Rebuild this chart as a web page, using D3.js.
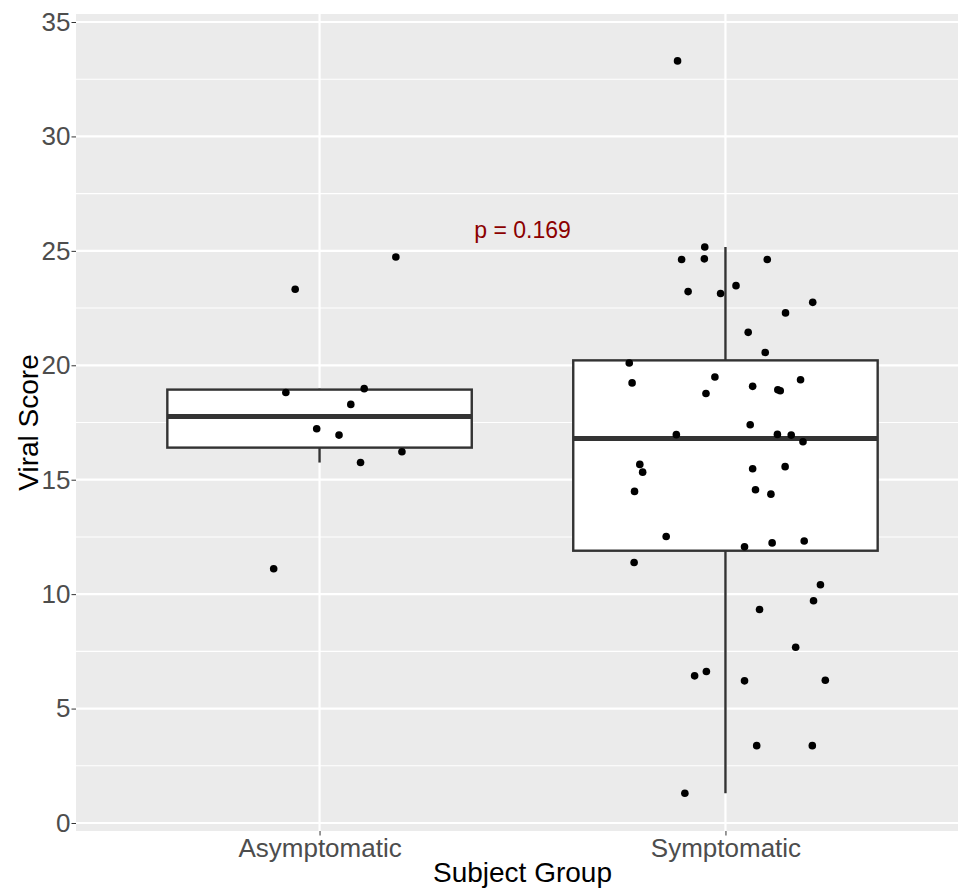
<!DOCTYPE html>
<html>
<head>
<meta charset="utf-8">
<script src="https://cdn.jsdelivr.net/npm/d3@7"></script>
<style>
  body { margin: 0; background: #fff; }
  text { font-family: "Liberation Sans", Arial, sans-serif; }
</style>
</head>
<body>
<div id="chart"></div>
<script>
// categories
const groups = ["Asymptomatic", "Symptomatic"];

// viral scores
const asymScores = [23.32, 24.73, 18.81, 18.98, 18.29, 17.23, 16.95, 16.22, 15.75, 11.11];
// horizontal jitter as a fraction of the category step
const asymJitter = [-0.060, 0.188, -0.083, 0.110, 0.077, -0.007, 0.048, 0.203, 0.101, -0.113];

const sympScores = [33.3, 25.17, 24.62, 24.65, 24.62, 23.22, 23.14, 23.48, 22.75, 22.29,
                    21.44, 20.56, 20.1, 19.23, 19.49, 18.77, 19.08, 18.93, 18.89, 19.37,
                    17.4, 16.97, 16.98, 16.95, 16.66, 15.67, 15.33, 15.48, 15.57, 14.49,
                    14.56, 14.37, 12.52, 12.07, 12.24, 12.32, 11.38, 10.41, 9.71, 9.33,
                    7.68, 6.43, 6.62, 6.21, 6.24, 3.38, 3.38, 1.30];
const sympJitter = [-0.118, -0.051, -0.108, -0.052, 0.103, -0.092, -0.012, 0.026, 0.215, 0.148,
                    0.056, 0.098, -0.237, -0.230, -0.026, -0.048, 0.067, 0.129, 0.135, 0.185,
                    0.061, -0.121, 0.128, 0.162, 0.191, -0.211, -0.204, 0.067, 0.147, -0.224,
                    0.074, 0.112, -0.146, 0.047, 0.115, 0.194, -0.225, 0.234, 0.217, 0.084,
                    0.173, -0.076, -0.047, 0.047, 0.246, 0.077, 0.214, -0.100];

const yTicks = [0, 5, 10, 15, 20, 25, 30, 35];
const yMinor = [2.5, 7.5, 12.5, 17.5, 22.5, 27.5, 32.5];
const pLabel = "p = 0.169";
const pLabelY = 25.55;

const width = 958, height = 888;
const panel = {left: 76, top: 14, right: 969, bottom: 831};

const svg = d3.select("#chart")
  .append("svg")
  .attr("width", width)
  .attr("height", height);

const xScale = d3.scalePoint()
  .domain(groups)
  .range([panel.left, panel.right])
  .padding(0.6);

const yScale = d3.scaleLinear()
  .domain([-0.35, 35.35])
  .range([panel.bottom, panel.top]);

const step = xScale.step();

// panel background
svg.append("rect")
  .attr("x", panel.left)
  .attr("y", panel.top)
  .attr("width", panel.right - panel.left)
  .attr("height", panel.bottom - panel.top)
  .attr("fill", "#EBEBEB");

// grid lines
svg.selectAll(".minor")
  .data(yMinor)
  .join("line")
  .attr("x1", panel.left).attr("x2", panel.right)
  .attr("y1", d => yScale(d)).attr("y2", d => yScale(d))
  .attr("stroke", "#fff").attr("stroke-width", 1.1);

svg.selectAll(".major")
  .data(yTicks)
  .join("line")
  .attr("x1", panel.left).attr("x2", panel.right)
  .attr("y1", d => yScale(d)).attr("y2", d => yScale(d))
  .attr("stroke", "#fff").attr("stroke-width", 2.2);

svg.selectAll(".vmajor")
  .data(groups)
  .join("line")
  .attr("x1", d => xScale(d)).attr("x2", d => xScale(d))
  .attr("y1", panel.top).attr("y2", panel.bottom)
  .attr("stroke", "#fff").attr("stroke-width", 2.2);

// y-axis
const yAxis = svg.append("g")
  .attr("transform", `translate(${panel.left},0)`)
  .call(d3.axisLeft(yScale).tickValues(yTicks).tickSize(4.5).tickPadding(1));
yAxis.select(".domain").remove();
yAxis.selectAll("line").attr("stroke", "#333");
yAxis.selectAll("text")
  .attr("fill", "#4D4D4D")
  .style("font-size", "26px")
  .style("font-family", "Liberation Sans, Arial, sans-serif");

// x-axis
const xAxis = svg.append("g")
  .attr("transform", `translate(0,${panel.bottom})`)
  .call(d3.axisBottom(xScale).tickSize(4.5).tickPadding(3));
xAxis.select(".domain").remove();
xAxis.selectAll("line").attr("stroke", "#333");
xAxis.selectAll("text")
  .attr("fill", "#4D4D4D")
  .style("font-size", "26px")
  .style("font-family", "Liberation Sans, Arial, sans-serif");

// axis labels
svg.append("text")
  .attr("x", (panel.left + panel.right) / 2)
  .attr("y", 882)
  .attr("text-anchor", "middle")
  .style("font-size", "28px")
  .text("Subject Group");

svg.append("text")
  .attr("transform", "rotate(-90)")
  .attr("x", -(panel.top + panel.bottom) / 2)
  .attr("y", 38)
  .attr("text-anchor", "middle")
  .style("font-size", "28px")
  .text("Viral Score");

// compute quartiles and whiskers like ggplot
function computeBoxPlotStats(values) {
  const v = values.slice().sort(d3.ascending);
  const q1 = d3.quantile(v, 0.25), median = d3.quantile(v, 0.5), q3 = d3.quantile(v, 0.75);
  const iqr = q3 - q1;
  return {
    q1, median, q3,
    lo: d3.min(v.filter(d => d >= q1 - 1.5 * iqr)),
    hi: d3.max(v.filter(d => d <= q3 + 1.5 * iqr))
  };
}

const series = [
  {group: "Asymptomatic", scores: asymScores, jitter: asymJitter},
  {group: "Symptomatic", scores: sympScores, jitter: sympJitter}
];

const boxWidth = step * 0.75;

series.forEach(s => {
  const stats = computeBoxPlotStats(s.scores);
  const x = xScale(s.group);

  // whiskers
  svg.append("line")
    .attr("x1", x).attr("x2", x)
    .attr("y1", yScale(stats.q3)).attr("y2", yScale(stats.hi))
    .attr("stroke", "#333").attr("stroke-width", 2.4);
  svg.append("line")
    .attr("x1", x).attr("x2", x)
    .attr("y1", yScale(stats.q1)).attr("y2", yScale(stats.lo))
    .attr("stroke", "#333").attr("stroke-width", 2.4);

  // box
  svg.append("rect")
    .attr("x", x - boxWidth / 2)
    .attr("y", yScale(stats.q3))
    .attr("width", boxWidth)
    .attr("height", yScale(stats.q1) - yScale(stats.q3))
    .attr("fill", "#fff")
    .attr("stroke", "#333")
    .attr("stroke-width", 2.4);

  // median
  svg.append("line")
    .attr("x1", x - boxWidth / 2).attr("x2", x + boxWidth / 2)
    .attr("y1", yScale(stats.median)).attr("y2", yScale(stats.median))
    .attr("stroke", "#333").attr("stroke-width", 5);
});

// jittered points
series.forEach(s => {
  svg.append("g")
    .selectAll("circle")
    .data(s.scores)
    .join("circle")
    .attr("cx", (d, i) => xScale(s.group) + s.jitter[i] * step)
    .attr("cy", d => yScale(d))
    .attr("r", 3.8)
    .attr("fill", "#000");
});

// p value
svg.append("text")
  .attr("x", (xScale(groups[0]) + xScale(groups[1])) / 2)
  .attr("y", yScale(pLabelY))
  .attr("text-anchor", "middle")
  .attr("fill", "#8B0000")
  .style("font-size", "23px")
  .text(pLabel);
</script>
</body>
</html>
